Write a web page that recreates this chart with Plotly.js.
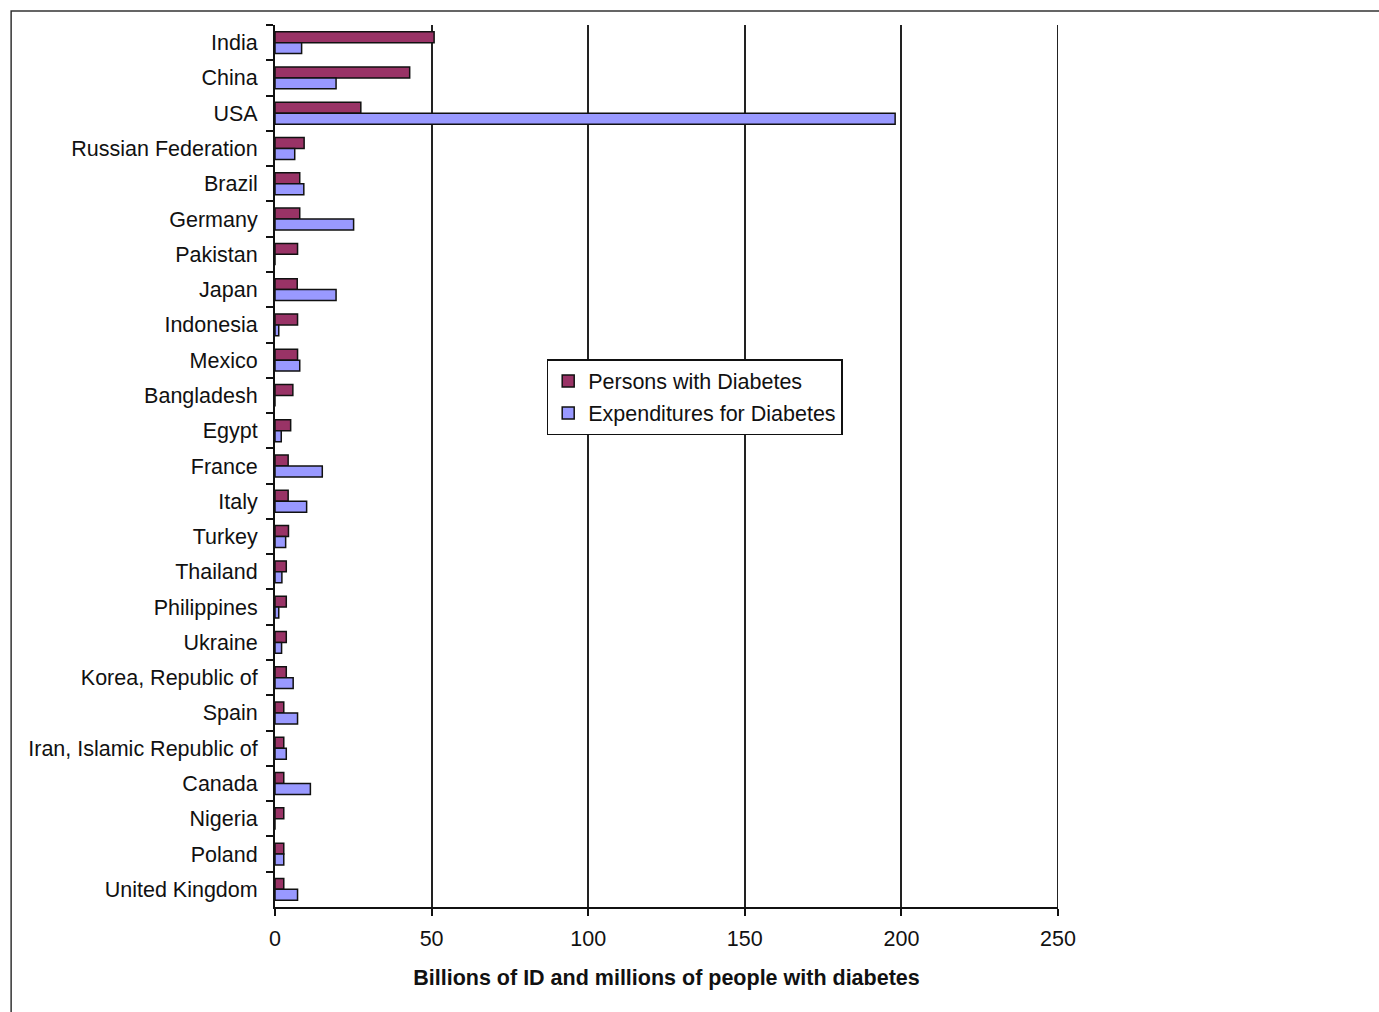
<!DOCTYPE html>
<html>
<head>
<meta charset="utf-8">
<script src="https://cdn.plot.ly/plotly-3.0.1.min.js"></script>
<style>html,body{margin:0;padding:0;background:#fff;}#chart{width:1379px;height:1012px;}</style>
</head>
<body>
<div id="chart"></div>
<script>
const countries = ["India","China","USA","Russian Federation","Brazil","Germany","Pakistan","Japan","Indonesia","Mexico","Bangladesh","Egypt","France","Italy","Turkey","Thailand","Philippines","Ukraine","Korea, Republic of","Spain","Iran, Islamic Republic of","Canada","Nigeria","Poland","United Kingdom"];
const personsWithDiabetes = [50.8,43.0,27.4,9.3,7.9,7.9,7.2,7.1,7.2,7.2,5.7,5.0,4.2,4.2,4.3,3.6,3.6,3.6,3.6,2.8,2.8,2.8,2.8,2.8,2.8];
const expendituresForDiabetes = [8.5,19.5,198.0,6.3,9.2,25.1,0,19.5,1.2,7.9,0,2.0,15.1,10.1,3.4,2.2,1.2,2.1,5.8,7.2,3.6,11.3,0,2.8,7.2];
const xTicks = [0,50,100,150,200,250];

const FONT = "Liberation Sans, Arial, sans-serif";
const FS = 21.5;

const traces = [
  {type:"bar", orientation:"h", name:"Persons with Diabetes", legendgroup:"a", y:countries, x:personsWithDiabetes,
   marker:{color:"#993366", line:{color:"#111", width:1.5}}},
  {type:"bar", orientation:"h", name:"Expenditures for Diabetes", legendgroup:"b", y:countries, x:expendituresForDiabetes,
   marker:{color:"#9999FF", line:{color:"#111", width:1.5}}}
];

const layout = {
  width:1379, height:1012,
  margin:{l:275, r:321, t:25, b:105, pad:0},
  paper_bgcolor:"#fff", plot_bgcolor:"#fff",
  font:{family:FONT, size:FS, color:"#111"},
  barmode:"group", bargap:0.38, bargroupgap:0,
  showlegend:true,
  legend:{x:0.347, y:0.6213, xanchor:"left", yanchor:"top", bgcolor:"#fff",
          bordercolor:"#111", borderwidth:1.5, font:{family:FONT, size:FS, color:"#111"},
          traceorder:"grouped", tracegroupgap:1},
  xaxis:{range:[0,250], tickvals:xTicks, ticktext:xTicks.map(String), showgrid:true, gridcolor:"#222", gridwidth:2,
         zeroline:false, showline:true, linecolor:"#111", linewidth:2,
         ticks:"outside", ticklen:7, tickcolor:"#111", tickwidth:2, ticklabelstandoff:4,
         tickfont:{family:FONT, size:FS, color:"#111"},
         title:{text:"<b>Billions of ID and millions of people with diabetes</b>", font:{family:FONT, size:FS, color:"#111"}, standoff:20},
         fixedrange:true},
  yaxis:{type:"category", autorange:"reversed", showgrid:false, zeroline:false,
         showline:true, linecolor:"#111", linewidth:2,
         ticks:"outside", tickson:"boundaries", ticklen:7, tickcolor:"#111", tickwidth:2,
         tickfont:{family:FONT, size:FS, color:"#111"}, ticklabelstandoff:11,
         fixedrange:true},
  shapes:[
    {type:"rect", xref:"paper", yref:"paper", x0:-0.337, x1:1.6, y0:-1, y1:1.0159,
     line:{color:"#333", width:1.5}, fillcolor:"rgba(0,0,0,0)", layer:"below"},
    {type:"line", xref:"x", yref:"paper", x0:250, x1:250, y0:0, y1:1,
     line:{color:"#222", width:2}, layer:"below"}
  ]
};

Plotly.newPlot("chart", traces, layout, {displayModeBar:false, staticPlot:true});
</script>
</body>
</html>
